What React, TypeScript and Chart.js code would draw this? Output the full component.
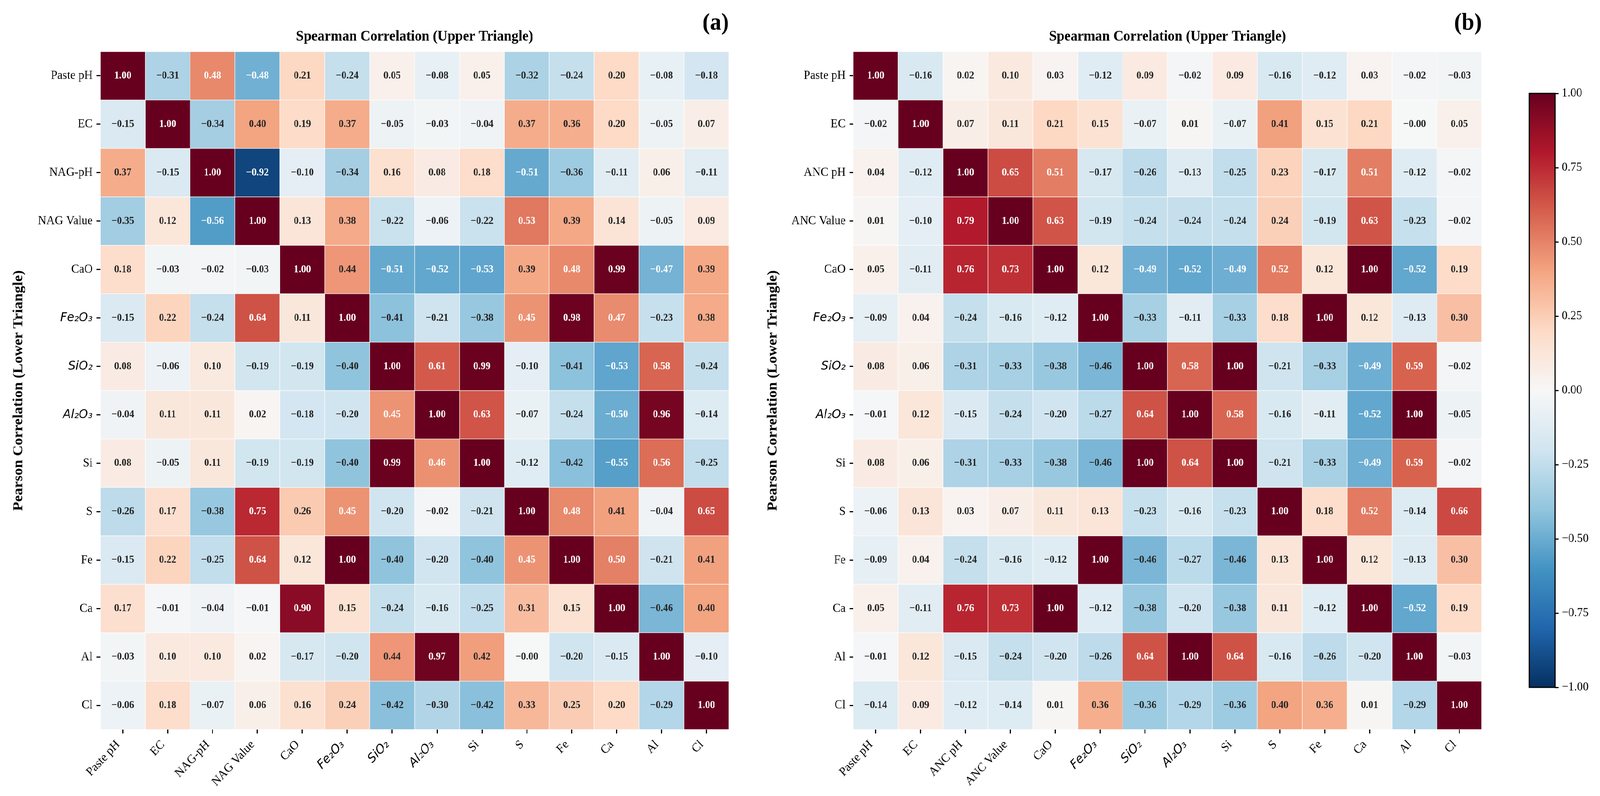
import React, { useEffect, useRef } from 'react';
import { Chart, registerables } from 'chart.js';

Chart.register(...registerables);

// ---------------- data ----------------
const LABELS_A = ['Paste pH', 'EC', 'NAG-pH', 'NAG Value', 'CaO', 'Fe₂O₃', 'SiO₂', 'Al₂O₃', 'Si', 'S', 'Fe', 'Ca', 'Al', 'Cl'];
const LABELS_B = ['Paste pH', 'EC', 'ANC pH', 'ANC Value', 'CaO', 'Fe₂O₃', 'SiO₂', 'Al₂O₃', 'Si', 'S', 'Fe', 'Ca', 'Al', 'Cl'];

// rows top->bottom, columns left->right (upper = Spearman, lower = Pearson)
const CORR_A: number[][] = [
  [1.00, -0.31, 0.48, -0.48, 0.21, -0.24, 0.05, -0.08, 0.05, -0.32, -0.24, 0.20, -0.08, -0.18],
  [-0.15, 1.00, -0.34, 0.40, 0.19, 0.37, -0.05, -0.03, -0.04, 0.37, 0.36, 0.20, -0.05, 0.07],
  [0.37, -0.15, 1.00, -0.92, -0.10, -0.34, 0.16, 0.08, 0.18, -0.51, -0.36, -0.11, 0.06, -0.11],
  [-0.35, 0.12, -0.56, 1.00, 0.13, 0.38, -0.22, -0.06, -0.22, 0.53, 0.39, 0.14, -0.05, 0.09],
  [0.18, -0.03, -0.02, -0.03, 1.00, 0.44, -0.51, -0.52, -0.53, 0.39, 0.48, 0.99, -0.47, 0.39],
  [-0.15, 0.22, -0.24, 0.64, 0.11, 1.00, -0.41, -0.21, -0.38, 0.45, 0.98, 0.47, -0.23, 0.38],
  [0.08, -0.06, 0.10, -0.19, -0.19, -0.40, 1.00, 0.61, 0.99, -0.10, -0.41, -0.53, 0.58, -0.24],
  [-0.04, 0.11, 0.11, 0.02, -0.18, -0.20, 0.45, 1.00, 0.63, -0.07, -0.24, -0.50, 0.96, -0.14],
  [0.08, -0.05, 0.11, -0.19, -0.19, -0.40, 0.99, 0.46, 1.00, -0.12, -0.42, -0.55, 0.56, -0.25],
  [-0.26, 0.17, -0.38, 0.75, 0.26, 0.45, -0.20, -0.02, -0.21, 1.00, 0.48, 0.41, -0.04, 0.65],
  [-0.15, 0.22, -0.25, 0.64, 0.12, 1.00, -0.40, -0.20, -0.40, 0.45, 1.00, 0.50, -0.21, 0.41],
  [0.17, -0.01, -0.04, -0.01, 0.90, 0.15, -0.24, -0.16, -0.25, 0.31, 0.15, 1.00, -0.46, 0.40],
  [-0.03, 0.10, 0.10, 0.02, -0.17, -0.20, 0.44, 0.97, 0.42, -0.004, -0.20, -0.15, 1.00, -0.10],
  [-0.06, 0.18, -0.07, 0.06, 0.16, 0.24, -0.42, -0.30, -0.42, 0.33, 0.25, 0.20, -0.29, 1.00],
];

const CORR_B: number[][] = [
  [1.00, -0.16, 0.02, 0.10, 0.03, -0.12, 0.09, -0.02, 0.09, -0.16, -0.12, 0.03, -0.02, -0.03],
  [-0.02, 1.00, 0.07, 0.11, 0.21, 0.15, -0.07, 0.01, -0.07, 0.41, 0.15, 0.21, -0.004, 0.05],
  [0.04, -0.12, 1.00, 0.65, 0.51, -0.17, -0.26, -0.13, -0.25, 0.23, -0.17, 0.51, -0.12, -0.02],
  [0.01, -0.10, 0.79, 1.00, 0.63, -0.19, -0.24, -0.24, -0.24, 0.24, -0.19, 0.63, -0.23, -0.02],
  [0.05, -0.11, 0.76, 0.73, 1.00, 0.12, -0.49, -0.52, -0.49, 0.52, 0.12, 1.00, -0.52, 0.19],
  [-0.09, 0.04, -0.24, -0.16, -0.12, 1.00, -0.33, -0.11, -0.33, 0.18, 1.00, 0.12, -0.13, 0.30],
  [0.08, 0.06, -0.31, -0.33, -0.38, -0.46, 1.00, 0.58, 1.00, -0.21, -0.33, -0.49, 0.59, -0.02],
  [-0.01, 0.12, -0.15, -0.24, -0.20, -0.27, 0.64, 1.00, 0.58, -0.16, -0.11, -0.52, 1.00, -0.05],
  [0.08, 0.06, -0.31, -0.33, -0.38, -0.46, 1.00, 0.64, 1.00, -0.21, -0.33, -0.49, 0.59, -0.02],
  [-0.06, 0.13, 0.03, 0.07, 0.11, 0.13, -0.23, -0.16, -0.23, 1.00, 0.18, 0.52, -0.14, 0.66],
  [-0.09, 0.04, -0.24, -0.16, -0.12, 1.00, -0.46, -0.27, -0.46, 0.13, 1.00, 0.12, -0.13, 0.30],
  [0.05, -0.11, 0.76, 0.73, 1.00, -0.12, -0.38, -0.20, -0.38, 0.11, -0.12, 1.00, -0.52, 0.19],
  [-0.01, 0.12, -0.15, -0.24, -0.20, -0.26, 0.64, 1.00, 0.64, -0.16, -0.26, -0.20, 1.00, -0.03],
  [-0.14, 0.09, -0.12, -0.14, 0.01, 0.36, -0.36, -0.29, -0.36, 0.40, 0.36, 0.01, -0.29, 1.00],
];

const TITLE_TOP = 'Spearman Correlation (Upper Triangle)';
const TITLE_LEFT = 'Pearson Correlation (Lower Triangle)';
const CBAR_TICKS = [-1, -0.75, -0.5, -0.25, 0, 0.25, 0.5, 0.75, 1];
// RdBu_r colormap nodes (from -1 to +1)
const RDBU_R = ['#053061', '#2166ac', '#4393c3', '#92c5de', '#d1e5f0', '#f7f7f7', '#fddbc7', '#f4a582', '#d6604d', '#b2182b', '#67001f'];

// ---------------- helpers ----------------
const W = 4386;
const H = 2037;
const SERIF = '"Liberation Serif", "Times New Roman", Times, serif';
const MATH = '"DejaVu Sans", sans-serif';
const CHEM = new Set(['Fe₂O₃', 'SiO₂', 'Al₂O₃']);

function hexToRgb(h: string): number[] {
  return [parseInt(h.slice(1, 3), 16), parseInt(h.slice(3, 5), 16), parseInt(h.slice(5, 7), 16)];
}
const NODES = RDBU_R.map(hexToRgb);

function cmap(v: number): number[] {
  const t = Math.max(0, Math.min(1, (v + 1) / 2));
  let idx = Math.floor(t * 256);
  if (idx > 255) idx = 255;
  const tq = idx / 255;
  const pos = tq * 10;
  const i = Math.min(9, Math.floor(pos));
  const f = pos - i;
  const a = NODES[i], b = NODES[i + 1];
  return [0, 1, 2].map((k) => a[k] + (b[k] - a[k]) * f);
}
function rgbStr(c: number[]): string {
  return `rgb(${Math.round(c[0])},${Math.round(c[1])},${Math.round(c[2])})`;
}
function luminance(c: number[]): number {
  const f = (x: number) => {
    const s = x / 255;
    return s <= 0.03928 ? s / 12.92 : Math.pow((s + 0.055) / 1.055, 2.4);
  };
  return 0.2126 * f(c[0]) + 0.7152 * f(c[1]) + 0.0722 * f(c[2]);
}
function fmt(v: number): string {
  return v < 0 ? '\u2212' + (-v).toFixed(2) : v.toFixed(2);
}
function tickFont(label: string) {
  return CHEM.has(label)
    ? { family: MATH, size: 32, style: 'italic' as const }
    : { family: SERIF, size: 32 };
}

function annotPlugin(matrix: number[][]) {
  return {
    id: 'cellAnnot',
    afterDatasetsDraw(chart: any) {
      const { ctx } = chart;
      ctx.save();
      ctx.font = `bold 27px ${SERIF}`;
      ctx.textAlign = 'center';
      ctx.textBaseline = 'middle';
      chart.data.datasets.forEach((_ds: any, r: number) => {
        const meta = chart.getDatasetMeta(r);
        meta.data.forEach((el: any, c: number) => {
          const v = matrix[r][c];
          const p = el.getProps(['x', 'y', 'base'], true);
          ctx.fillStyle = luminance(cmap(v)) > 0.408 ? '#262626' : '#ffffff';
          ctx.fillText(fmt(v), p.x, (p.y + p.base) / 2);
        });
      });
      ctx.restore();
    },
  };
}

function titlePlugin(title: string, letter: string) {
  return {
    id: 'panelTitle',
    afterDraw(chart: any) {
      const { ctx, chartArea } = chart;
      ctx.save();
      ctx.fillStyle = '#000';
      ctx.textBaseline = 'alphabetic';
      ctx.font = `bold 38px ${SERIF}`;
      ctx.textAlign = 'center';
      ctx.fillText(title, (chartArea.left + chartArea.right) / 2, 104);
      ctx.font = `bold 62px ${SERIF}`;
      ctx.textAlign = 'right';
      ctx.fillText(letter, chartArea.right, 76);
      ctx.restore();
    },
  };
}

function heatmapConfig(labels: string[], matrix: number[][], letter: string, padLeft: number, yWidth: number, padRight: number): any {
  const datasets = matrix.map((row, r) => ({
    label: labels[r],
    data: row.map(() => [r - 0.5, r + 0.5]),
    backgroundColor: row.map((v) => rgbStr(cmap(v))),
    borderColor: '#ffffff',
    borderWidth: 1,
    borderSkipped: false,
    grouped: false,
    barPercentage: 1,
    categoryPercentage: 1,
  }));
  const gridOpts = {
    display: true,
    drawOnChartArea: false,
    drawTicks: true,
    tickLength: 10,
    tickWidth: 3,
    tickColor: '#000',
    offset: false,
  };
  return {
    type: 'bar',
    data: { labels, datasets },
    options: {
      responsive: false,
      maintainAspectRatio: false,
      animation: false,
      devicePixelRatio: 1,
      events: [],
      layout: { padding: { left: padLeft, top: 132, right: padRight, bottom: 0 } },
      plugins: { legend: { display: false }, tooltip: { enabled: false }, title: { display: false } },
      scales: {
        x: {
          type: 'category',
          offset: true,
          position: 'bottom',
          grid: gridOpts,
          border: { display: false },
          ticks: {
            autoSkip: false,
            minRotation: 45,
            maxRotation: 45,
            padding: 10,
            labelOffset: -13,
            color: '#000',
            font: (ctx: any) => tickFont(labels[ctx.index]),
          },
          afterFit: (s: any) => {
            s.height = 170;
          },
        },
        y: {
          type: 'linear',
          min: -0.5,
          max: 13.5,
          reverse: true,
          afterBuildTicks: (s: any) => {
            s.ticks = labels.map((_l, i) => ({ value: i }));
          },
          grid: gridOpts,
          border: { display: false },
          ticks: {
            autoSkip: false,
            padding: 11,
            color: '#000',
            callback: (v: any) => labels[v],
            font: (ctx: any) => tickFont(labels[ctx.index]),
          },
          title: {
            display: true,
            text: TITLE_LEFT,
            color: '#000',
            font: { family: SERIF, size: 38, weight: 'bold' },
            padding: { top: 2, bottom: 0 },
          },
          afterFit: (s: any) => {
            s.width = yWidth;
          },
        },
      },
    },
    plugins: [annotPlugin(matrix), titlePlugin(TITLE_TOP, letter)],
  };
}

function colorbarConfig(): any {
  return {
    type: 'bar',
    data: {
      labels: ['cbar'],
      datasets: [
        {
          data: [[CBAR_TICKS[0], CBAR_TICKS[CBAR_TICKS.length - 1]]],
          backgroundColor: (ctx: any) => {
            const ch = ctx.chart;
            const a = ch.chartArea;
            if (!a) return '#fff';
            const g = ch.ctx.createLinearGradient(0, a.bottom, 0, a.top);
            RDBU_R.forEach((c, i) => g.addColorStop(i / (RDBU_R.length - 1), c));
            return g;
          },
          borderWidth: 0,
          barPercentage: 1,
          categoryPercentage: 1,
        },
      ],
    },
    options: {
      responsive: false,
      maintainAspectRatio: false,
      animation: false,
      devicePixelRatio: 1,
      events: [],
      layout: { padding: { left: 42, top: 239, right: 0, bottom: 278 } },
      plugins: { legend: { display: false }, tooltip: { enabled: false } },
      scales: {
        x: { display: false, offset: true },
        y: {
          type: 'linear',
          position: 'right',
          min: -1,
          max: 1,
          afterBuildTicks: (s: any) => {
            s.ticks = CBAR_TICKS.map((v) => ({ value: v }));
          },
          grid: { display: true, drawOnChartArea: false, drawTicks: true, tickLength: 10, tickWidth: 3, tickColor: '#000' },
          border: { display: false },
          ticks: {
            autoSkip: false,
            padding: 8,
            color: '#000',
            font: { family: SERIF, size: 32 },
            callback: (v: any) => fmt(Number(v)),
          },
          afterFit: (s: any) => {
            s.width = 123;
          },
        },
      },
    },
    plugins: [
      {
        id: 'cbarOutline',
        afterDraw(chart: any) {
          const { ctx, chartArea: a } = chart;
          ctx.save();
          ctx.strokeStyle = '#000';
          ctx.lineWidth = 3;
          ctx.strokeRect(a.left, a.top, a.right - a.left, a.bottom - a.top);
          ctx.restore();
        },
      },
    ],
  };
}

export default function App() {
  const refA = useRef<HTMLCanvasElement | null>(null);
  const refB = useRef<HTMLCanvasElement | null>(null);
  const refC = useRef<HTMLCanvasElement | null>(null);

  const vw = typeof window !== 'undefined' ? window.innerWidth || W : W;
  const vh = typeof window !== 'undefined' ? window.innerHeight || H : H;
  const sx = vw / W;
  const sy = vh / H;

  useEffect(() => {
    document.body.style.margin = '0';
    document.body.style.overflow = 'hidden';
    document.documentElement.style.overflow = 'hidden';
    const charts: Chart[] = [];
    if (refA.current) charts.push(new Chart(refA.current, heatmapConfig(LABELS_A, CORR_A, '(a)', 26, 249, 62)));
    if (refB.current) charts.push(new Chart(refB.current, heatmapConfig(LABELS_B, CORR_B, '(b)', 24, 245, 62)));
    if (refC.current) charts.push(new Chart(refC.current, colorbarConfig()));
    return () => charts.forEach((c) => c.destroy());
  }, []);

  const cs = (left: number, width: number): React.CSSProperties => ({
    position: 'absolute',
    left,
    top: 0,
    width,
    height: H,
  });

  return (
    <div
      style={{
        position: 'fixed',
        left: 0,
        top: 0,
        width: W,
        height: H,
        background: '#fff',
        transform: `scale(${sx}, ${sy})`,
        transformOrigin: '0 0',
      }}
    >
      <canvas ref={refA} width={2060} height={H} style={cs(0, 2060)} />
      <canvas ref={refB} width={2054} height={H} style={cs(2070, 2054)} />
      <canvas ref={refC} width={236} height={H} style={cs(4150, 236)} />
    </div>
  );
}
